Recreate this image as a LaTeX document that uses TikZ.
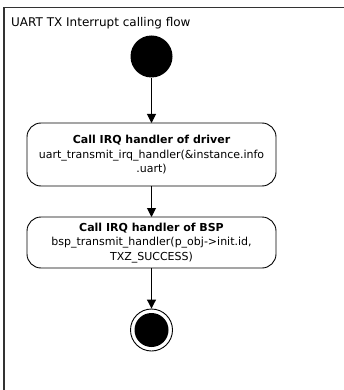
\documentclass[tikz,border=0pt]{standalone}
\usepackage{fontspec}
\setmainfont{DejaVu Sans}
\usetikzlibrary{arrows.meta}
\begin{document}
\begin{tikzpicture}[x=1pt,y=-1pt,
  actbox/.style={draw=black, line width=0.9pt, rounded corners=14pt, fill=white, inner sep=0pt},
  flow/.style={draw=black, line width=1pt, -{Triangle[length=9pt,width=9pt]}},
  txt/.style={font=\fontsize{11}{14.5}\selectfont, align=center}
]
\useasboundingbox (0,0) rectangle (344,390);
\fill[white] (0,0) rectangle (344,390);
% outer frame
\draw[line width=1.5pt, draw=black!80] (4,400) -- (4,7.5) -- (350,7.5);
\node[anchor=base west, inner sep=0pt, font=\fontsize{12}{14}\selectfont] (title) at (11,26.5) {UART TX Interrupt calling flow};
% start
\node[circle, fill=black, minimum size=42pt, inner sep=0pt] (start) at (151.5,56.5) {};
% box 1
\path[actbox] (27,123) rectangle (276,186);
\node[txt] (b1) at (151.5,155) {\textbf{Call IRQ handler of driver}\\uart\_transmit\_irq\_handler(\&instance.info\\.uart)};
\coordinate (b1t) at (151.5,123);
\coordinate (b1b) at (151.5,186);
% box 2
\path[actbox] (27,217) rectangle (276,268);
\node[txt] (b2) at (151.5,243) {\textbf{Call IRQ handler of BSP}\\bsp\_transmit\_handler(p\_obj->init.id,\\TXZ\_SUCCESS)};
\coordinate (b2t) at (151.5,217);
\coordinate (b2b) at (151.5,268);
% end
\node[circle, draw=black, line width=0.9pt, minimum size=42pt, inner sep=0pt] (final) at (151.5,330) {};
\node[circle, fill=black, minimum size=34pt, inner sep=0pt] (finalin) at (151.5,330) {};
% connectors
\draw[flow] (start) -- (b1t);
\draw[flow] (b1b) -- (b2t);
\draw[flow] (b2b) -- (final);
\end{tikzpicture}
\end{document}
